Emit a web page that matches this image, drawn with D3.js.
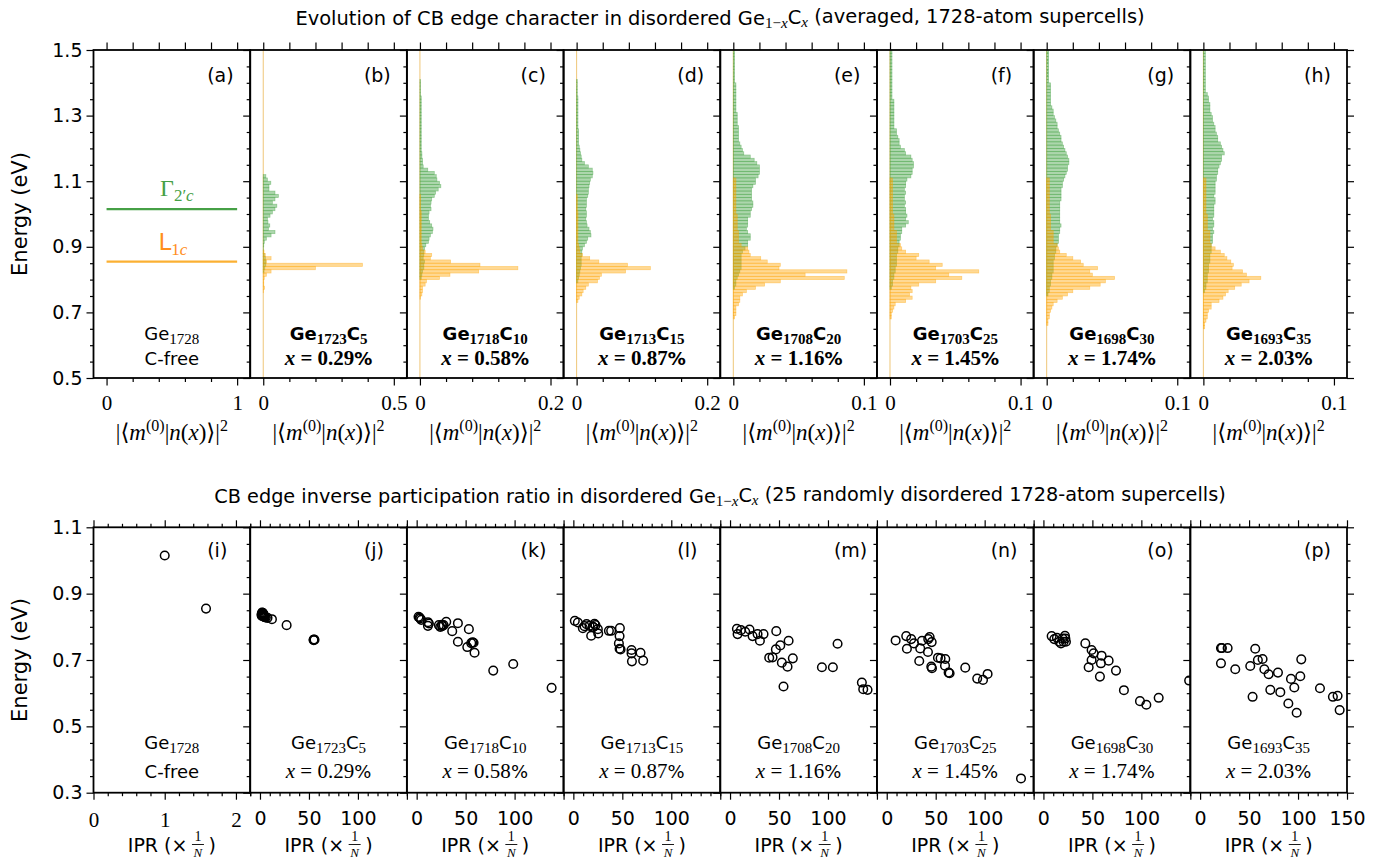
<!DOCTYPE html>
<html><head><meta charset="utf-8">
<script src="https://cdn.jsdelivr.net/npm/d3@7"></script>
<style>body{margin:0;background:#fff} svg{display:block;background:#fff}</style>
</head><body>
<svg id="c" width="1381" height="861"></svg>
<script>
// ---------------- DATA ----------------
const topLetters = ['a','b','c','d','e','f','g','h'];
const bottomLetters = ['i','j','k','l','m','n','o','p'];
const geCounts = ['1728','1723','1718','1713','1708','1703','1698','1693'];
const cCounts = [null,'5','10','15','20','25','30','35'];
const xPercent = [null,'0.29','0.58','0.87','1.16','1.45','1.74','2.03'];
const topXMax = [1, 0.5, 0.2, 0.2, 0.1, 0.1, 0.1, 0.1];
const topXMaxLabel = ['1','0.5','0.2','0.2','0.1','0.1','0.1','0.1'];
const bandEnergies = [1.015, 0.855];   // Γ2'c and L1c in C-free Ge1728
const binWidth = 0.01;

// Γ (green) character per energy bin, listed downward from gammaStart
const gammaStart = [null, 1.11, 1.40, 1.40, 1.49, 1.49, 1.49, 1.49];
const gammaVals = [
  [],
  [0.010,0.016,0.029,0.022,0.022,0.045,0.058,0.045,0.035,0.052,0.045,0.035,0.026,0.016,0.018,0.025,0.020,0.045,0.030,0.012,0.004,0.002,0.001,0.001,0.004,0.008,0.010,0.010,0.006,0.003],
  [0.001,0.001,0.001,0.001,0.001,
   0.002,0.002,0.002,0.002,0.002,0.002,0.002,0.002,0.002,0.002,0.002,0.002,0.002,0.002,0.002,
   0.002,0.002,0.003,0.003,0.004,0.004,0.005,0.012,0.022,0.025,
   0.026,0.030,0.032,0.028,0.024,0.022,0.018,0.017,0.016,0.017,
   0.014,0.013,0.013,0.015,0.018,0.020,0.019,0.016,0.014,0.013,
   0.009,0.007,0.006,0.006,0.005,0.007,0.006,0.006,0.004,0.003,0.002],
  [0.001,0.001,0.001,0.001,0.001,
   0.002,0.002,0.002,0.002,0.002,0.002,0.002,0.002,0.002,0.002,
   0.003,0.003,0.003,0.003,0.003,
   0.004,0.005,0.006,0.007,0.008,0.012,0.018,0.024,0.025,0.024,
   0.021,0.020,0.019,0.018,0.018,0.017,0.015,0.015,0.015,0.014,
   0.015,0.015,0.014,0.015,0.016,0.019,0.021,0.022,0.017,0.015,
   0.012,0.009,0.008,0.008,0.007,0.007,0.007,0.006,0.005,0.004,0.003,0.002],
  [0.001,0.001,0.001,0.001,0.001,0.001,0.001,0.001,0.001,0.001,
   0.002,0.002,0.002,0.002,0.002,0.002,0.002,0.002,0.002,
   0.003,0.003,0.003,0.003,
   0.004,0.004,0.004,0.004,0.004,
   0.005,0.006,0.007,0.008,0.013,0.016,0.018,0.020,0.020,0.020,
   0.019,0.017,0.017,0.015,0.014,0.014,0.014,0.014,0.015,0.015,
   0.014,0.013,0.013,0.011,0.011,0.011,0.010,0.011,0.013,0.013,
   0.011,0.011,0.009,0.007,0.006,0.006,0.006,0.006,0.006,0.005,
   0.004,0.003,0.002,0.002,0.001],
  [0.0015,0.0015,0.0015,0.0015,0.0015,0.0015,0.0015,0.0015,0.0015,0.0015,0.0015,0.0015,0.0015,0.0015,0.0015,
   0.003,0.003,0.003,0.003,0.003,0.003,0.003,0.003,0.003,
   0.005,0.005,0.006,0.007,0.007,0.008,0.011,0.012,0.016,0.017,
   0.018,0.018,0.017,0.017,0.016,0.013,0.012,0.012,0.011,0.012,
   0.011,0.011,0.012,0.011,0.012,0.012,0.013,0.012,0.014,0.012,
   0.009,0.009,0.008,0.008,0.007,0.007,0.006,0.006,0.005,0.005,
   0.005,0.005,0.004,0.004,0.003,0.003,0.002,0.002,0.001],
  [0.0015,0.0015,0.0015,0.0015,0.0015,0.0015,0.0015,0.0015,0.0015,0.0015,
   0.003,0.003,0.003,0.003,0.003,0.003,0.003,
   0.004,0.005,0.005,0.006,0.007,0.008,0.008,0.009,0.010,0.011,
   0.011,0.012,0.013,0.014,0.015,0.016,0.017,0.017,0.016,0.016,
   0.015,0.014,0.013,0.012,0.012,0.011,0.011,0.011,0.011,0.010,
   0.010,0.010,0.010,0.010,0.010,0.010,0.011,0.010,0.010,0.009,
   0.009,0.009,0.008,0.007,0.007,0.006,0.006,0.005,0.005,0.005,
   0.005,0.004,0.004,0.003,0.003,0.002,0.002,0.001],
  [0.0015,0.0015,0.0015,0.0015,0.0015,0.0015,0.0015,0.0015,0.0015,0.0015,0.0015,0.0015,0.0015,
   0.003,0.004,0.004,0.005,0.005,0.005,0.006,0.007,0.007,0.008,
   0.009,0.009,0.010,0.011,0.011,0.013,0.014,0.015,0.016,0.014,
   0.014,0.013,0.012,0.011,0.011,0.010,0.010,0.009,0.009,0.009,
   0.009,0.008,0.009,0.009,0.008,0.008,0.008,0.008,0.007,0.008,
   0.008,0.007,0.008,0.007,0.007,0.007,0.006,0.006,0.006,0.005,
   0.005,0.005,0.004,0.004,0.004,0.003,0.003,0.003,0.002,0.002,0.001]
];

// L (orange) character per energy bin, listed downward from lStart
const lStart = [null, 0.88, 1.05, 1.05, 1.10, 1.10, 1.10, 1.10];
const lVals = [
  [],
  [0.003,0.008,0.030,0.012,0.380,0.200,0.030,0.012,0.004,0.002,0.002,0.005,0.001],
  [0.001,0.001,0.001,0.001,0.001,0.002,0.002,0.002,0.002,0.002,0.002,0.002,0.002,0.002,0.002,
   0.003,0.004,0.008,0.018,0.016,0.047,0.092,0.150,0.090,0.046,0.030,0.010,0.008,0.004,0.004,0.003,0.001],
  [0.001,0.001,0.001,0.001,0.001,0.002,0.002,0.002,0.002,0.002,0.002,0.002,0.002,0.002,0.002,
   0.003,0.004,0.005,0.009,0.020,0.034,0.078,0.113,0.075,0.038,0.035,0.032,0.018,0.014,0.010,0.008,0.004,0.002],
  [0.002,0.002,0.002,0.002,0.002,0.002,0.002,0.002,0.002,0.002,0.002,0.003,0.003,0.003,0.003,0.003,0.004,0.004,0.004,0.004,
   0.006,0.011,0.012,0.013,0.021,0.026,0.036,0.035,0.087,0.055,0.085,0.036,0.024,0.017,0.010,0.007,0.005,0.005,0.004,0.002,0.002,0.002,0.001],
  [0.002,0.002,0.002,0.002,0.002,0.002,0.002,0.002,0.002,0.002,0.002,0.003,0.003,0.003,0.003,0.003,0.005,0.005,0.005,0.005,
   0.008,0.009,0.012,0.022,0.020,0.030,0.040,0.035,0.068,0.045,0.055,0.035,0.022,0.016,0.017,0.015,0.017,0.012,0.004,0.003,0.002,0.001,0.001],
  [0.002,0.002,0.002,0.002,0.002,0.002,0.002,0.002,0.002,0.002,0.002,0.003,0.003,0.003,0.003,0.003,0.005,0.005,0.005,0.005,
   0.008,0.009,0.010,0.015,0.020,0.026,0.028,0.039,0.033,0.035,0.052,0.045,0.041,0.033,0.020,0.016,0.012,0.008,0.005,0.004,0.003,0.002,0.002,0.001,0.001],
  [0.002,0.002,0.002,0.002,0.002,0.002,0.002,0.002,0.002,0.002,0.002,0.003,0.003,0.003,0.003,0.003,0.005,0.005,0.005,0.005,
   0.006,0.009,0.013,0.016,0.018,0.021,0.023,0.022,0.030,0.033,0.044,0.035,0.029,0.024,0.019,0.017,0.015,0.012,0.006,0.006,0.004,0.003,0.003,0.002,0.001,0.001]
];

// IPR scatter (x = IPR in units of 1/N, y = energy in eV)
const iprValues = [
  [1.0, 1.58],
  [1.9,2.6,2.2,3.0,4.3,2.8,3.5,7.7,12.2,27.2,54.7,55.7,2.0,3.2,2.4,4.0,5.0,3.8,2.1,1.5,6.0,3.3,55.2,54.9,2.7],
  [1.9,3.6,4.7,11.5,11.5,22.7,24.1,25.8,27.5,30.2,36.3,42.1,42.1,53.3,51.7,55.7,58.1,59.1,78.2,98.6,137.8,3.0,26.0,57.0,12.5],
  [1.5,4.6,9.7,11.4,13.5,16.5,18.2,20.2,21.6,22.6,25.0,25.4,36.3,38.6,47.5,47.2,46.5,47.2,48.2,59.4,59.4,59.8,68.6,71.3,20.0],
  [7.0,7.7,11.1,15.5,19.9,23.0,28.1,30.5,34.2,47.2,46.8,40.0,43.4,51.3,52.9,59.8,58.7,64.1,54.6,93.8,105.0,109.8,134.6,136.0,140.4],
  [9.1,19.9,20.6,25.0,27.8,34.2,36.0,33.2,42.4,42.1,43.8,45.9,45.5,46.2,52.3,55.0,59.8,59.5,63.2,64.2,80.2,92.4,98.3,103.0,137.1],
  [8.4,11.1,13.8,16.2,17.9,19.6,20.6,22.0,23.0,22.4,42.8,49.2,51.3,49.2,46.2,59.4,58.7,57.7,66.6,74.1,82.2,98.6,105.1,117.7,148.8],
  [21.3,22.3,28.1,21.3,35.9,51.2,56.3,59.0,63.8,65.6,70.0,79.5,71.7,81.9,92.8,96.2,102.3,103.3,90.1,98.6,53.6,122.4,135.6,140.4,142.5]
];
const iprEnergies = [
  [1.015, 0.855],
  [0.833,0.839,0.836,0.840,0.830,0.842,0.835,0.827,0.823,0.805,0.761,0.761,0.838,0.832,0.841,0.836,0.829,0.833,0.843,0.837,0.828,0.840,0.762,0.760,0.834],
  [0.830,0.825,0.821,0.814,0.803,0.805,0.800,0.806,0.805,0.815,0.787,0.811,0.755,0.793,0.739,0.751,0.752,0.722,0.668,0.688,0.616,0.828,0.802,0.753,0.810],
  [0.818,0.813,0.796,0.802,0.808,0.803,0.773,0.799,0.809,0.805,0.793,0.780,0.788,0.788,0.796,0.772,0.750,0.734,0.732,0.730,0.720,0.696,0.722,0.698,0.800],
  [0.794,0.778,0.790,0.785,0.792,0.772,0.778,0.758,0.778,0.787,0.732,0.707,0.708,0.744,0.692,0.758,0.680,0.705,0.620,0.678,0.678,0.749,0.632,0.612,0.610],
  [0.759,0.772,0.734,0.763,0.750,0.735,0.758,0.697,0.763,0.724,0.769,0.754,0.680,0.675,0.707,0.705,0.703,0.683,0.662,0.660,0.677,0.644,0.640,0.658,0.343],
  [0.772,0.763,0.767,0.755,0.750,0.765,0.755,0.773,0.755,0.765,0.750,0.730,0.720,0.700,0.678,0.713,0.690,0.650,0.698,0.668,0.609,0.576,0.565,0.586,0.638],
  [0.736,0.736,0.736,0.690,0.672,0.682,0.734,0.700,0.703,0.672,0.657,0.662,0.610,0.603,0.643,0.617,0.651,0.702,0.569,0.541,0.589,0.615,0.589,0.592,0.549]
];
const topYTicks = [0.5, 0.7, 0.9, 1.1, 1.3, 1.5];
const botYTicks = [0.3, 0.5, 0.7, 0.9, 1.1];
const iprTicksFree = [0, 1, 2];
const iprTicks = [0, 50, 100, 150];

// ---------------- LAYOUT / STYLE ----------------
const SANS = '"DejaVu Sans", sans-serif';
const SERIF = '"Liberation Serif", "DejaVu Serif", serif';
const GREEN = '#3a9e3a', ORANGE = '#ffa500';
const GAMMA_LINE = '#46a046', L_LINE = '#fbb033', L_TEXT = '#ff8f1c';
const panelLeft = 93.5, panelRight = 1347, pw = (panelRight - panelLeft) / 8;
const topY0 = 50, topY1 = 378, botY0 = 527.3, botY1 = 792.7;

const svg = d3.select('#c');
const defs = svg.append('defs');

function axisDraw(g, gen, values, size, transform, fmt, font, fsize, pad) {
  const a = gen.tickValues(values).tickSize(size).tickSizeOuter(0).tickPadding(pad || 4)
    .tickFormat(fmt || (() => ''));
  const s = g.append('g').attr('transform', transform).call(a);
  s.select('.domain').remove();
  s.selectAll('line').attr('stroke', '#000').attr('stroke-width', 1.2);
  s.selectAll('text').attr('font-family', font || SANS).attr('font-size', fsize || 18).attr('fill', '#000');
  s.attr('font-family', null).attr('font-size', null);
  return s;
}
function range(a, b, step) { const r = []; for (let v = a; v <= b + 1e-9; v += step) r.push(+v.toFixed(6)); return r; }

function geLabel(g, cx, y, i, bold) {
  const t = g.append('text').attr('x', cx).attr('y', y).attr('text-anchor', 'middle')
    .attr('font-size', 18).attr('font-weight', bold ? 'bold' : 'normal').attr('fill', '#000');
  t.append('tspan').attr('font-family', SANS).text('Ge');
  t.append('tspan').attr('font-family', SERIF).attr('font-size', 15).attr('dy', 4).text(geCounts[i]);
  if (cCounts[i]) {
    t.append('tspan').attr('font-family', SANS).attr('dy', -4).text('C');
    t.append('tspan').attr('font-family', SERIF).attr('font-size', 15).attr('dy', 4).text(cCounts[i]);
  }
}
function xLabel(g, cx, y, i, bold) {
  const t = g.append('text').attr('x', cx).attr('y', y).attr('text-anchor', 'middle')
    .attr('font-size', 21).attr('font-weight', bold ? 'bold' : 'normal').attr('fill', '#000');
  if (!xPercent[i]) { t.attr('font-family', SANS).attr('font-size', 18).text('C-free'); return; }
  t.append('tspan').attr('font-family', SERIF).attr('font-style', 'italic').text('x');
  t.append('tspan').attr('font-family', SERIF).text(' = ' + xPercent[i]);
  t.append('tspan').attr('font-family', SANS).attr('font-size', 18).text('%');
}
function overlapLabel(g, cx, y) {
  const t = g.append('text').attr('x', cx).attr('y', y).attr('text-anchor', 'middle')
    .attr('font-family', SERIF).attr('font-size', 23).attr('fill', '#000');
  t.append('tspan').text('|⟨');
  t.append('tspan').attr('font-style', 'italic').text('m');
  t.append('tspan').attr('font-size', 16).attr('dy', -9).text('(0)');
  t.append('tspan').attr('dy', 9).text('|');
  t.append('tspan').attr('font-style', 'italic').text('n');
  t.append('tspan').text('(');
  t.append('tspan').attr('font-style', 'italic').text('x');
  t.append('tspan').text(')⟩|');
  t.append('tspan').attr('font-size', 16).attr('dy', -9).text('2');
}
function iprLabel(g, cx, y) {
  const grp = g.append('g');
  const t1 = grp.append('text').attr('y', y).attr('font-family', SANS).attr('font-size', 19).text('IPR (×');
  const w1 = t1.node().getComputedTextLength();
  const fw = 13, gap = 4;
  const t2 = grp.append('text').attr('y', y).attr('font-family', SANS).attr('font-size', 19).text(')');
  const w2 = t2.node().getComputedTextLength();
  const total = w1 + gap + fw + gap + w2;
  const x0 = cx - total / 2;
  t1.attr('x', x0);
  const fx = x0 + w1 + gap + fw / 2;
  grp.append('text').attr('x', fx).attr('y', y - 11).attr('text-anchor', 'middle')
    .attr('font-family', SERIF).attr('font-size', 14).text('1');
  grp.append('line').attr('x1', fx - 6).attr('x2', fx + 6).attr('y1', y - 7.5).attr('y2', y - 7.5)
    .attr('stroke', '#000').attr('stroke-width', 0.9);
  grp.append('text').attr('x', fx).attr('y', y + 5).attr('text-anchor', 'middle')
    .attr('font-family', SERIF).attr('font-style', 'italic').attr('font-size', 13).text('N');
  t2.attr('x', x0 + w1 + gap + fw + gap);
}

// ---------------- TITLES ----------------
function titleText(y, pre, post, len) {
  const t = svg.append('text').attr('x', 720).attr('y', y).attr('text-anchor', 'middle')
    .attr('font-family', SANS).attr('font-size', 20).attr('fill', '#000');
  t.append('tspan').text(pre + 'Ge');
  const s1 = t.append('tspan').attr('font-family', SERIF).attr('font-size', '0.78em').attr('dy', '0.2em');
  s1.append('tspan').text('1−');
  s1.append('tspan').attr('font-style', 'italic').text('x');
  t.append('tspan').attr('dy', '-0.2em').text('C');
  t.append('tspan').attr('font-family', SERIF).attr('font-size', '0.78em').attr('font-style', 'italic').attr('dy', '0.2em').text('x');
  t.append('tspan').attr('dy', '-0.2em').text(post);
  const w = t.node().getComputedTextLength();
  t.attr('font-size', 20 * len / w);
}
titleText(25, 'Evolution of CB edge character in disordered ', ' (averaged, 1728-atom supercells)', 850);
titleText(503, 'CB edge inverse participation ratio in disordered ', ' (25 randomly disordered 1728-atom supercells)', 1012);

// y axis labels
[(topY0 + topY1) / 2, (botY0 + botY1) / 2].forEach(cy => {
  svg.append('text').attr('transform', `translate(27,${cy}) rotate(-90)`).attr('text-anchor', 'middle')
    .attr('font-family', SANS).attr('font-size', 21).attr('fill', '#000').text('Energy (eV)');
});

// ---------------- TOP ROW ----------------
const yTop = d3.scaleLinear().domain([0.5, 1.5]).range([topY1, topY0]);
for (let i = 0; i < 8; i++) {
  const x0 = panelLeft + i * pw, x1 = x0 + pw;
  const m = topXMax[i];
  const x = d3.scaleLinear().domain([-0.1 * m, 1.1 * m]).range([x0, x1]);
  const g = svg.append('g');
  const cid = 'ct' + i;
  defs.append('clipPath').attr('id', cid).append('rect')
    .attr('x', x0).attr('y', topY0).attr('width', pw).attr('height', topY1 - topY0);
  const cg = g.append('g').attr('clip-path', `url(#${cid})`);

  if (i === 0) {
    cg.append('line').attr('x1', x(0)).attr('x2', x(1)).attr('y1', yTop(bandEnergies[0])).attr('y2', yTop(bandEnergies[0]))
      .attr('stroke', GAMMA_LINE).attr('stroke-width', 2.2);
    cg.append('line').attr('x1', x(0)).attr('x2', x(1)).attr('y1', yTop(bandEnergies[1])).attr('y2', yTop(bandEnergies[1]))
      .attr('stroke', L_LINE).attr('stroke-width', 2.2);
    const tg = g.append('text').attr('x', x(0.5) + 5).attr('y', yTop(bandEnergies[0]) - 13).attr('text-anchor', 'middle')
      .attr('fill', GAMMA_LINE).attr('font-family', SERIF).attr('font-size', 24);
    tg.append('tspan').text('Γ');
    const sub = tg.append('tspan').attr('font-size', 17).attr('dy', 5);
    sub.append('tspan').text('2′');
    sub.append('tspan').attr('font-style', 'italic').text('c');
    const tl = g.append('text').attr('x', x(0.5) + 1).attr('y', yTop(bandEnergies[1]) - 12).attr('text-anchor', 'middle')
      .attr('fill', L_TEXT).attr('font-family', SANS).attr('font-size', 23);
    tl.append('tspan').text('L');
    const sub2 = tl.append('tspan').attr('font-family', SERIF).attr('font-size', 17).attr('dy', 5);
    sub2.append('tspan').text('1');
    sub2.append('tspan').attr('font-style', 'italic').text('c');
  } else {
    const gData = gammaVals[i].map((v, k) => ({ e: gammaStart[i] - k * binWidth, v }));
    const lData = lVals[i].map((v, k) => ({ e: lStart[i] - k * binWidth, v }));
    cg.append('line').attr('x1', x(0)).attr('x2', x(0)).attr('y1', topY0).attr('y2', topY1)
      .attr('stroke', '#e8b040').attr('stroke-width', 1).attr('opacity', 0.7);
    cg.selectAll('rect.g').data(gData).join('rect').attr('class', 'g')
      .attr('x', x(0)).attr('width', d => x(d.v) - x(0))
      .attr('y', d => yTop(d.e + binWidth)).attr('height', d => yTop(d.e) - yTop(d.e + binWidth))
      .attr('fill', GREEN).attr('fill-opacity', 0.42)
      .attr('stroke', GREEN).attr('stroke-opacity', 0.45).attr('stroke-width', 0.7);
    cg.selectAll('rect.l').data(lData).join('rect').attr('class', 'l')
      .attr('x', x(0)).attr('width', d => x(d.v) - x(0))
      .attr('y', d => yTop(d.e + binWidth)).attr('height', d => yTop(d.e) - yTop(d.e + binWidth))
      .attr('fill', ORANGE).attr('fill-opacity', 0.42)
      .attr('stroke', ORANGE).attr('stroke-opacity', 0.45).attr('stroke-width', 0.7);
  }
  geLabel(g, (x0 + x1) / 2, 340, i, i > 0);
  xLabel(g, (x0 + x1) / 2, 365, i, i > 0);
  g.append('text').attr('x', x1 - 43).attr('y', 82).attr('font-family', SANS).attr('font-size', 19)
    .attr('fill', '#000').text('(' + topLetters[i] + ')');

  g.append('rect').attr('x', x0).attr('y', topY0).attr('width', pw).attr('height', topY1 - topY0)
    .attr('fill', 'none').attr('stroke', '#000').attr('stroke-width', 1.8);
  const major = topYTicks, minor = range(0.55, 1.45, 0.05).filter(v => !major.some(t => Math.abs(t - v) < 1e-6));
  axisDraw(g, d3.axisLeft(yTop), major, 7, `translate(${x0},0)`, i === 0 ? (d => d.toFixed(1)) : null, SANS, 19, 4);
  axisDraw(g, d3.axisLeft(yTop), minor, 3.5, `translate(${x0},0)`);
  if (i === 7) {
    axisDraw(g, d3.axisRight(yTop), major, 7, `translate(${x1},0)`);
    axisDraw(g, d3.axisRight(yTop), minor, 3.5, `translate(${x1},0)`);
  }
  const xt = range(0, 5, 1).map(k => k * m / 5);
  axisDraw(g, d3.axisTop(x), xt, 7.5, `translate(0,${topY0})`);
  axisDraw(g, d3.axisBottom(x), [0, m], 7.5, `translate(0,${topY1})`, d => d === 0 ? '0' : topXMaxLabel[i], SERIF, 21, 10);
  axisDraw(g, d3.axisBottom(x), xt.slice(1, 5), 4, `translate(0,${topY1})`);
  overlapLabel(g, (x0 + x1) / 2, 440);
}

// ---------------- BOTTOM ROW ----------------
const yBot = d3.scaleLinear().domain([0.3, 1.1]).range([botY1, botY0]);
for (let i = 0; i < 8; i++) {
  const x0 = panelLeft + i * pw, x1 = x0 + pw;
  const x = i === 0 ? d3.scaleLinear().domain([0, 2.2]).range([x0, x1])
                    : d3.scaleLinear().domain([-10, 150]).range([x0, x1]);
  const g = svg.append('g');
  const cid = 'cb' + i;
  defs.append('clipPath').attr('id', cid).append('rect')
    .attr('x', x0).attr('y', botY0).attr('width', pw).attr('height', botY1 - botY0);
  const cg = g.append('g').attr('clip-path', `url(#${cid})`);
  const pts = iprValues[i].map((v, k) => ({ x: v, y: iprEnergies[i][k] }));
  cg.selectAll('circle').data(pts).join('circle')
    .attr('cx', d => x(d.x)).attr('cy', d => yBot(d.y)).attr('r', 4.3)
    .attr('fill', 'none').attr('stroke', '#000').attr('stroke-width', 1.5);

  geLabel(g, (x0 + x1) / 2, 749, i, false);
  xLabel(g, (x0 + x1) / 2, 778, i, false);
  g.append('text').attr('x', x1 - 43).attr('y', 557).attr('font-family', SANS).attr('font-size', 19)
    .attr('fill', '#000').text('(' + bottomLetters[i] + ')');

  g.append('rect').attr('x', x0).attr('y', botY0).attr('width', pw).attr('height', botY1 - botY0)
    .attr('fill', 'none').attr('stroke', '#000').attr('stroke-width', 1.8);
  const major = botYTicks, minor = range(0.35, 1.05, 0.05).filter(v => !major.some(t => Math.abs(t - v) < 1e-6));
  axisDraw(g, d3.axisLeft(yBot), major, 7, `translate(${x0},0)`, i === 0 ? (d => d.toFixed(1)) : null, SANS, 19, 4);
  axisDraw(g, d3.axisLeft(yBot), minor, 3.5, `translate(${x0},0)`);
  if (i === 7) {
    axisDraw(g, d3.axisRight(yBot), major, 7, `translate(${x1},0)`);
    axisDraw(g, d3.axisRight(yBot), minor, 3.5, `translate(${x1},0)`);
  }
  const xMajor = i === 0 ? iprTicksFree : iprTicks;
  const xMinor = (i === 0 ? range(0, 2.2, 0.2) : range(-10, 150, 10)).filter(v => !xMajor.some(t => Math.abs(t - v) < 1e-6));
  const fmt = d => (i > 0 && i < 7 && d === 150) ? '' : String(d);
  axisDraw(g, d3.axisBottom(x), xMajor, 7, `translate(0,${botY1})`, fmt, i === 0 ? SERIF : SANS, i === 0 ? 21 : 19, 12);
  axisDraw(g, d3.axisBottom(x), xMinor, 3.5, `translate(0,${botY1})`);
  axisDraw(g, d3.axisTop(x), xMajor, 7, `translate(0,${botY0})`);
  axisDraw(g, d3.axisTop(x), xMinor, 3.5, `translate(0,${botY0})`);
  iprLabel(g, (x0 + x1) / 2, 852);
}
</script>
</body></html>
